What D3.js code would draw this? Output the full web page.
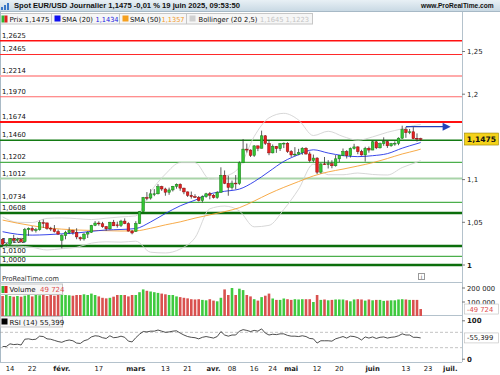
<!DOCTYPE html>
<html>
<head>
<meta charset="UTF-8">
<title>Spot EUR/USD Journalier</title>
<script src="https://cdn.jsdelivr.net/npm/d3@7"></script>
<style>
  body { margin: 0; background: #fff; }
  svg text { font-family: "DejaVu Sans", Verdana, sans-serif; }
  svg text.hdr { font-family: "Liberation Sans", Arial, sans-serif; font-weight: bold; }
</style>
</head>
<body>
<div id="chart"></div>
<script>
// ---- data (daily candles, 10 Jan 2025 -> 19 Jun 2025) ----
const opens = [1.0299,1.0228,1.0244,1.0307,1.0290,1.0300,1.0273,1.0414,1.0428,1.0408,1.0413,1.0496,1.0493,1.0430,1.0421,1.0391,1.0290,1.0344,1.0378,1.0404,
  1.0381,1.0320,1.0306,1.0362,1.0382,1.0464,1.0491,1.0483,1.0448,1.0424,1.0501,1.0470,1.0465,1.0514,1.0484,1.0397,1.0395,1.0486,1.0625,1.0790,
  1.0784,1.0833,1.0834,1.0918,1.0890,1.0852,1.0879,1.0922,1.0944,1.0900,1.0856,1.0815,1.0801,1.0791,1.0754,1.0800,1.0834,1.0817,1.0790,1.0851,
  1.1051,1.0957,1.0908,1.0959,1.0954,1.1197,1.1357,1.1346,1.1284,1.1395,1.1367,1.1513,1.1424,1.1313,1.1390,1.1362,1.1422,1.1426,1.1329,1.1289,
  1.1298,1.1315,1.1367,1.1300,1.1223,1.1252,1.1087,1.1184,1.1174,1.1186,1.1162,1.1243,1.1285,1.1329,1.1281,1.1364,1.1383,1.1327,1.1289,1.1367,
  1.1346,1.1443,1.1372,1.1420,1.1444,1.1396,1.1420,1.1425,1.1485,1.1586,1.1550,1.1560,1.1484,1.1479];
const highs = [1.0314,1.0262,1.0311,1.0353,1.0320,1.0318,1.0434,1.0440,1.0455,1.0434,1.0522,1.0533,1.0494,1.0447,1.0468,1.0414,1.0360,1.0400,1.0442,1.0412,
  1.0430,1.0333,1.0373,1.0395,1.0470,1.0514,1.0512,1.0505,1.0457,1.0505,1.0528,1.0507,1.0529,1.0546,1.0500,1.0410,1.0513,1.0633,1.0797,1.0854,
  1.0888,1.0889,1.0947,1.0928,1.0905,1.0906,1.0926,1.0955,1.0956,1.0905,1.0861,1.0860,1.0829,1.0808,1.0815,1.0845,1.0855,1.0830,1.0865,1.1144,
  1.1107,1.1046,1.0989,1.1053,1.1214,1.1474,1.1422,1.1354,1.1403,1.1398,1.1573,1.1521,1.1464,1.1411,1.1394,1.1424,1.1435,1.1437,1.1345,1.1380,
  1.1360,1.1380,1.1380,1.1327,1.1293,1.1262,1.1191,1.1265,1.1228,1.1227,1.1287,1.1288,1.1364,1.1345,1.1376,1.1419,1.1390,1.1349,1.1384,1.1387,
  1.1455,1.1453,1.1434,1.1495,1.1458,1.1430,1.1448,1.1495,1.1631,1.1614,1.1593,1.1615,1.1541,1.1490];
const lows = [1.0215,1.0215,1.0234,1.0267,1.0268,1.0266,1.0266,1.0342,1.0390,1.0380,1.0402,1.0434,1.0413,1.0397,1.0380,1.0354,1.0195,1.0301,1.0362,1.0355,
  1.0302,1.0284,1.0286,1.0316,1.0377,1.0455,1.0460,1.0436,1.0400,1.0415,1.0456,1.0437,1.0445,1.0478,1.0393,1.0359,1.0387,1.0480,1.0621,1.0758,
  1.0766,1.0806,1.0826,1.0868,1.0811,1.0822,1.0861,1.0894,1.0869,1.0829,1.0797,1.0777,1.0784,1.0744,1.0733,1.0787,1.0769,1.0778,1.0775,1.0851,
  1.0947,1.0811,1.0882,1.0886,1.0938,1.1193,1.1317,1.1265,1.1266,1.1333,1.1366,1.1406,1.1286,1.1307,1.1313,1.1335,1.1369,1.1313,1.1265,1.1273,
  1.1286,1.1290,1.1292,1.1202,1.1204,1.1065,1.1070,1.1171,1.1130,1.1133,1.1152,1.1205,1.1275,1.1247,1.1258,1.1352,1.1297,1.1281,1.1211,1.1315,
  1.1345,1.1357,1.1364,1.1396,1.1371,1.1384,1.1396,1.1403,1.1476,1.1489,1.1532,1.1473,1.1446,1.1451];
const closes = [1.0244,1.0244,1.0307,1.0290,1.0300,1.0273,1.0414,1.0428,1.0408,1.0413,1.0496,1.0493,1.0430,1.0421,1.0391,1.0362,1.0344,1.0378,1.0404,1.0381,
  1.0329,1.0306,1.0362,1.0382,1.0464,1.0491,1.0483,1.0448,1.0424,1.0501,1.0459,1.0465,1.0514,1.0484,1.0397,1.0375,1.0486,1.0625,1.0790,1.0784,
  1.0833,1.0834,1.0918,1.0890,1.0852,1.0879,1.0922,1.0944,1.0900,1.0856,1.0815,1.0801,1.0791,1.0754,1.0800,1.0834,1.0817,1.0790,1.0851,1.1051,
  1.0957,1.0908,1.0959,1.0954,1.1197,1.1357,1.1346,1.1284,1.1395,1.1367,1.1513,1.1424,1.1313,1.1390,1.1362,1.1422,1.1426,1.1329,1.1289,1.1298,
  1.1315,1.1367,1.1300,1.1223,1.1252,1.1087,1.1184,1.1174,1.1186,1.1162,1.1243,1.1285,1.1329,1.1281,1.1364,1.1383,1.1327,1.1289,1.1367,1.1346,
  1.1443,1.1372,1.1420,1.1444,1.1396,1.1420,1.1425,1.1485,1.1586,1.1550,1.1560,1.1479,1.1479,1.1475];
const volumes = [143,150,143,138,143,138,145,150,140,150,148,150,143,150,145,150,160,150,148,145,
  150,150,155,150,160,150,140,130,126,130,138,150,150,150,140,150,150,170,190,180,
  175,170,165,160,155,150,150,140,135,130,126,120,118,120,115,112,120,110,105,130,
  190,150,200,150,195,185,150,140,120,110,135,145,160,125,115,115,125,120,115,120,
  118,120,120,120,100,150,115,118,112,115,118,118,118,112,105,118,120,118,110,118,
  112,115,115,108,110,112,112,118,120,118,115,115,115,49.724];
const rsi = [33,33,40,38,39,37,52,53,51,52,60,59,53,52,49,46,44,48,50,48,
  42,41,48,51,58,61,60,56,54,61,56,57,60,57,47,45,56,65,72,71,
  73,73,76,73,70,71,73,74,68,63,59,57,56,53,57,59,57,55,59,72,
  63,60,63,63,73,77,75,72,75,73,79,68,63,65,64,66,66,62,60,60,
  59,61,59,54,53,42,48,48,48,47,53,56,59,55,60,59,56,50,58,55,
  58,54,57,58,55,57,58,61,66,63,63,57,57,55.399];

// indicator values read at every 4th session
const indIdx = [0,4,8,12,16,20,24,28,32,36,40,44,48,52,56,60,64,68,72,76,80,84,88,92,96,100,104,108,112,113];
const sma20 = [1.0390,1.0360,1.0350,1.0355,1.0365,1.0375,1.0394,1.0410,1.0416,1.0427,1.0504,1.0603,1.0693,1.0759,1.0832,1.0863,1.0889,1.0976,1.1094,1.1213,
  1.1292,1.1349,1.1311,1.1281,1.1269,1.1280,1.1304,1.1368,1.1421,1.1434];
const sma50 = [1.0526,1.0490,1.0460,1.0435,1.0420,1.0410,1.0405,1.0402,1.0398,1.0400,1.0430,1.0470,1.0505,1.0549,1.0587,1.0625,1.0671,1.0749,1.0834,1.0909,
  1.0977,1.1043,1.1090,1.1123,1.1159,1.1198,1.1247,1.1300,1.1344,1.1357];
const bbUpper = [1.0563,1.0500,1.0497,1.0546,1.0551,1.0543,1.0532,1.0548,1.0563,1.0575,1.0858,1.1064,1.1199,1.1199,1.1006,1.1036,1.1145,1.1505,1.1723,1.1776,
  1.1697,1.1516,1.1566,1.1505,1.1461,1.1500,1.1554,1.1595,1.1640,1.1645];
const bbLower = [1.0215,1.0220,1.0207,1.0176,1.0191,1.0207,1.0256,1.0272,1.0268,1.0279,1.0150,1.0141,1.0187,1.0319,1.0658,1.0690,1.0633,1.0447,1.0464,1.0650,
  1.0888,1.1181,1.1057,1.1057,1.1077,1.1060,1.1054,1.1141,1.1205,1.1223];

// support / resistance lines
const levels = [1.2625,1.2465,1.2214,1.1970,1.1674,1.1460,1.1202,1.1012,1.0734,1.0608,1.0222,1.0100,1.0000];
const levelColors = ["#ff1010","#ff2a2a","#ffaaaa","#ff6a6a","#ff1010","#137a13","#4caf4c","#a9d4a9","#4caf4c","#0b6e0b","#0b6e0b","#4caf4c","#0b6e0b"];
const levelWidths = [1.5,1.2,2,1.2,2,1.5,1.2,2,1.2,2.5,2.5,1.2,2.5];

const priceTicks = [1.25,1.2,1.1,1.05,1];
const volumeTicks = [200000,100000];
const rsiTicks = [100,0];
const dateTicks = [["2025-01-14","14"],["2025-01-22","22"],["2025-02-03","févr."],["2025-02-17","17"],["2025-03-03","mars"],["2025-03-13","13"],
  ["2025-03-21","21"],["2025-04-01","avr."],["2025-04-08","08"],["2025-04-16","16"],["2025-04-24","24"],["2025-05-01","mai"],["2025-05-12","12"],
  ["2025-05-20","20"],["2025-06-02","juin"],["2025-06-13","13"],["2025-06-23","23"],["2025-07-01","juil."]];
const monthLabels = ["févr.","mars","avr.","mai","juin","juil."];

const lastPrice = 1.1475, lastVolume = 49724, lastRsi = 55.399;
const arrow = {from: 109, to: 120, price: 1.1620};

// ---- sessions (weekdays, Good Friday closed) ----
const fmtDay = d3.timeFormat("%Y-%m-%d");
const sessions = d3.timeDay.range(new Date(2025,0,10), new Date(2025,6,5))
  .filter(d => d.getDay() > 0 && d.getDay() < 6 && fmtDay(d) !== "2025-04-18")
  .map(fmtDay);
const sessionIndex = new Map(sessions.map((d,i) => [d,i]));

const comma = v => String(v).replace(".", ",");
const f4 = d3.format(".4f");

// ---- layout ----
const W = 500, H = 375, plotRight = 462;
const svg = d3.select("#chart").append("svg").attr("width", W).attr("height", H)
  .style("background", "#fff");

const x = d3.scaleLinear().domain([0, 113]).range([2.6, 420.7]);
const y = d3.scaleLinear().domain([1.0, 1.25]).range([265, 51.5]);
const yVol = d3.scaleLinear().domain([0, 200000]).range([316, 288]);
const yRsi = d3.scaleLinear().domain([0, 100]).range([359.2, 320.8]);

const defs = svg.append("defs");
const grad = defs.append("linearGradient").attr("id","hdr").attr("x1",0).attr("y1",0).attr("x2",0).attr("y2",1);
grad.append("stop").attr("offset","0%").attr("stop-color","#e8f0f5");
grad.append("stop").attr("offset","100%").attr("stop-color","#c9d9e4");
defs.append("clipPath").attr("id","clipMain").append("rect").attr("x",0).attr("y",25).attr("width",plotRight).attr("height",248);
defs.append("clipPath").attr("id","clipLow").append("rect").attr("x",0).attr("y",283).attr("width",plotRight).attr("height",79);

// header
svg.append("rect").attr("width", W).attr("height", 11).attr("fill", "url(#hdr)");
svg.append("line").attr("x1",0).attr("x2",W).attr("y1",11.5).attr("y2",11.5).attr("stroke","#a7b9c6");
const icon = svg.append("g");
[[1,7,3],[4,5,5],[7,3,7]].forEach(b => icon.append("rect").attr("x",b[0]).attr("y",b[1]).attr("width",2).attr("height",b[2]).attr("fill","#3a78c8"));
svg.append("text").attr("class","hdr").attr("x",14).attr("y",8.3).attr("font-size",7.2).attr("fill","#111")
  .attr("textLength",226).attr("lengthAdjust","spacingAndGlyphs")
  .text("Spot EUR/USD Journalier 1,1475 -0,01 % 19 juin 2025, 09:53:50");
svg.append("text").attr("class","hdr").attr("x",421).attr("y",8.3).attr("font-size",6.6).attr("fill","#111")
  .text("www.ProRealTime.com");

// legend row
svg.append("rect").attr("x",0.5).attr("y",13.5).attr("width",312).attr("height",10.5).attr("fill","#f6f6f6").attr("stroke","#c6c6c6");
[51.5,119.5,186.5].forEach(s => svg.append("line").attr("x1",s).attr("x2",s).attr("y1",13.5).attr("y2",24).attr("stroke","#c6c6c6"));
svg.append("rect").attr("x",1.5).attr("y",15.5).attr("width",3).attr("height",7).attr("fill","#2fb82f");
svg.append("rect").attr("x",4.5).attr("y",15.5).attr("width",3).attr("height",7).attr("fill","#e02020");
const legendText = (tx, t, fill, len) => svg.append("text").attr("x",tx).attr("y",21.6).attr("font-size",7).attr("fill",fill)
  .attr("textLength",len).attr("lengthAdjust","spacingAndGlyphs").text(t);
legendText(9.5, "Prix 1,1475", "#111", 40);
svg.append("rect").attr("x",54.5).attr("y",15.5).attr("width",6).attr("height",6).attr("fill","#1010f0");
legendText(62, "SMA (20)", "#111", 31);
legendText(95.5, "1,1434", "#2020e0", 23);
svg.append("rect").attr("x",122.5).attr("y",15.5).attr("width",6).attr("height",6).attr("fill","#f5a020");
legendText(130, "SMA (50)", "#111", 31);
legendText(161.5, "1,1357", "#f29a2a", 23);
svg.append("rect").attr("x",189.5).attr("y",15.5).attr("width",6).attr("height",6).attr("fill","#d0d0d0");
legendText(198.5, "Bollinger (20 2,5)", "#111", 59);
legendText(260, "1,1645 1,1223", "#c4c4c4", 49);

// frame lines
const frame = "#b4c2cc";
svg.append("line").attr("x1",0.5).attr("x2",0.5).attr("y1",12).attr("y2",362).attr("stroke","#a9bac6");
svg.append("line").attr("x1",plotRight+0.5).attr("x2",plotRight+0.5).attr("y1",12).attr("y2",362).attr("stroke",frame);
[282.5, 315.5, 362.5].forEach(v => svg.append("line").attr("x1",0).attr("x2",plotRight).attr("y1",v).attr("y2",v).attr("stroke",frame));

// levels
const main = svg.append("g").attr("clip-path","url(#clipMain)");
levels.forEach((p,i) => {
  main.append("line").attr("x1",0).attr("x2",plotRight).attr("y1",y(p)).attr("y2",y(p))
    .attr("stroke",levelColors[i]).attr("stroke-width",levelWidths[i]);
  main.append("text").attr("x",2).attr("y",y(p) - 3).attr("font-size",6.8).attr("fill","#111").text(comma(f4(p)));
});

// indicators
const lineFor = (vals, sc) => d3.line().x((d,i) => x(indIdx[i])).y(d => sc(d)).curve(d3.curveMonotoneX)(vals);
main.append("path").attr("d", lineFor(bbUpper, y)).attr("fill","none").attr("stroke","#d2d2d2").attr("stroke-width",0.9);
main.append("path").attr("d", lineFor(bbLower, y)).attr("fill","none").attr("stroke","#d2d2d2").attr("stroke-width",0.9);
main.append("path").attr("d", lineFor(sma50, y)).attr("fill","none").attr("stroke","#f6a236").attr("stroke-width",0.9);
main.append("path").attr("d", lineFor(sma20, y)).attr("fill","none").attr("stroke","#2433e6").attr("stroke-width",0.9);

// candles
const idx = d3.range(closes.length);
const up = i => closes[i] >= opens[i];
main.selectAll("line.wick").data(idx).enter().append("line").attr("class","wick")
  .attr("x1", i => x(i)).attr("x2", i => x(i)).attr("y1", i => y(highs[i])).attr("y2", i => y(lows[i]))
  .attr("stroke","#333").attr("stroke-width",0.8);
main.selectAll("rect.body").data(idx).enter().append("rect").attr("class","body")
  .attr("x", i => x(i) - 1.3).attr("width", 2.6)
  .attr("y", i => y(Math.max(opens[i], closes[i])))
  .attr("height", i => Math.max(0.8, Math.abs(y(opens[i]) - y(closes[i]))))
  .attr("fill", i => up(i) ? "#33c633" : "#e42121")
  .attr("stroke", i => up(i) ? "#167a16" : "#8c0f0f").attr("stroke-width",0.5);

// arrow
main.append("line").attr("x1",x(arrow.from)).attr("x2",x(arrow.to) - 3).attr("y1",y(arrow.price)).attr("y2",y(arrow.price))
  .attr("stroke","#2443b8").attr("stroke-width",1.4);
main.append("path").attr("d", `M${x(arrow.to)-4},${y(arrow.price)-4}L${x(arrow.to)+4},${y(arrow.price)}L${x(arrow.to)-4},${y(arrow.price)+4}Z`)
  .attr("fill","#2443b8");

// price axis
priceTicks.forEach(t => {
  svg.append("line").attr("x1",plotRight).attr("x2",plotRight+3).attr("y1",y(t)).attr("y2",y(t)).attr("stroke","#777");
  svg.append("text").attr("x",plotRight+5).attr("y",y(t)+2.5).attr("font-size",7).attr("fill","#222")
    .attr("font-weight", t === 1 ? "bold" : "normal").text(comma(t));
});
svg.append("rect").attr("x",plotRight+2.5).attr("y",y(lastPrice)-6).attr("width",34).attr("height",12)
  .attr("fill","#f4d21a").attr("stroke","#9a8200").attr("stroke-width",0.6);
svg.append("text").attr("x",plotRight+19.5).attr("y",y(lastPrice)+3).attr("text-anchor","middle").attr("font-size",7.6)
  .attr("font-weight","bold").attr("fill","#111").text(comma(f4(lastPrice)));

// footer of main panel
svg.append("text").attr("x",2).attr("y",280.5).attr("font-size",7).attr("fill","#333")
  .attr("textLength",57).attr("lengthAdjust","spacingAndGlyphs").text("ProRealTime.com");
svg.append("rect").attr("x",418.5).attr("y",273.5).attr("width",6).attr("height",6).attr("fill","#fff").attr("stroke","#999");
svg.append("text").attr("x",421.5).attr("y",278.8).attr("text-anchor","middle").attr("font-size",5.5).attr("fill","#555").text("i");

// volume panel
const low = svg.append("g").attr("clip-path","url(#clipLow)");
low.selectAll("rect.vol").data(idx).enter().append("rect").attr("class","vol")
  .attr("x", i => x(i) - 1.3).attr("width", 2.6)
  .attr("y", i => yVol(volumes[i] * 1000)).attr("height", i => yVol(0) - yVol(volumes[i] * 1000))
  .attr("fill", i => up(i) ? "#3fca3f" : "#d9514f");
svg.append("rect").attr("x",0.5).attr("y",284).attr("width",62).attr("height",10.5).attr("fill","#f6f6f6").attr("stroke","#c6c6c6");
svg.append("rect").attr("x",1.5).attr("y",286).attr("width",3).attr("height",7).attr("fill","#2fb82f");
svg.append("rect").attr("x",4.5).attr("y",286).attr("width",3).attr("height",7).attr("fill","#e02020");
svg.append("text").attr("x",9.5).attr("y",292).attr("font-size",7).attr("fill","#111").text("Volume");
svg.append("text").attr("x",40).attr("y",292).attr("font-size",7).attr("fill","#e05050").text(d3.format(",")(lastVolume).replace(",", " "));
volumeTicks.forEach(t => {
  svg.append("line").attr("x1",plotRight).attr("x2",plotRight+3).attr("y1",yVol(t)).attr("y2",yVol(t)).attr("stroke","#777");
  svg.append("text").attr("x",plotRight+5).attr("y",yVol(t)+2.5).attr("font-size",6.8).attr("fill","#222")
    .text(d3.format(",")(t).replace(/,/g, " "));
});
svg.append("rect").attr("x",plotRight+2.5).attr("y",yVol(lastVolume)-5).attr("width",34).attr("height",10)
  .attr("fill","#fff").attr("stroke","#bbb").attr("stroke-width",0.6);
svg.append("text").attr("x",plotRight+5).attr("y",yVol(lastVolume)+2.5).attr("font-size",6.8).attr("fill","#e05050")
  .text("-" + d3.format(",")(lastVolume).replace(",", " "));

// RSI panel
[70,30].forEach(v => low.append("line").attr("x1",0).attr("x2",plotRight).attr("y1",yRsi(v)).attr("y2",yRsi(v))
  .attr("stroke","#9a9a9a").attr("stroke-width",0.6).attr("stroke-dasharray","3,2"));
low.append("path").attr("d", d3.line().x((d,i) => x(i)).y(d => yRsi(d))(rsi))
  .attr("fill","none").attr("stroke","#222").attr("stroke-width",0.8);
svg.append("rect").attr("x",0.5).attr("y",316.5).attr("width",62).attr("height",10.5).attr("fill","#f6f6f6").attr("stroke","#c6c6c6");
svg.append("rect").attr("x",1.5).attr("y",318.5).attr("width",6).attr("height",6).attr("fill","#000");
svg.append("text").attr("x",9.5).attr("y",324.5).attr("font-size",7).attr("fill","#111").text("RSI (14) " + comma(lastRsi));
rsiTicks.forEach(t => {
  svg.append("line").attr("x1",plotRight).attr("x2",plotRight+3).attr("y1",yRsi(t)).attr("y2",yRsi(t)).attr("stroke","#777");
  svg.append("text").attr("x",plotRight+5).attr("y",yRsi(t)+2.5).attr("font-size",7).attr("font-weight","bold").attr("fill","#222").text(t);
});
svg.append("rect").attr("x",plotRight+2.5).attr("y",yRsi(lastRsi)-5).attr("width",34).attr("height",10)
  .attr("fill","#fff").attr("stroke","#bbb").attr("stroke-width",0.6);
svg.append("text").attr("x",plotRight+5).attr("y",yRsi(lastRsi)+2.5).attr("font-size",6.8).attr("fill","#222")
  .text("-" + comma(lastRsi));

// date axis
dateTicks.forEach(([d, label]) => {
  svg.append("text").attr("x", x(sessionIndex.get(d))).attr("y", 371).attr("text-anchor","middle")
    .attr("font-size",6.8).attr("fill","#222")
    .attr("font-weight", monthLabels.includes(label) ? "bold" : "normal").text(label);
});
</script>
</body>
</html>
